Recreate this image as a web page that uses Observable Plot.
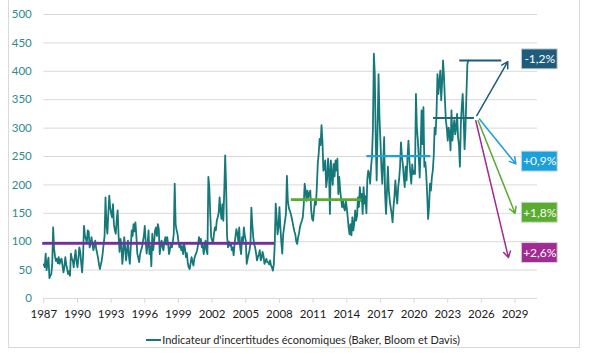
<!DOCTYPE html>
<html><head><meta charset="utf-8">
<script src="https://cdn.jsdelivr.net/npm/d3@7"></script>
<script src="https://cdn.jsdelivr.net/npm/@observablehq/plot@0.6"></script>
<style>
html,body{margin:0;padding:0;background:#fff}
body{width:606px;height:353px;overflow:hidden;position:relative;font-family:Lato,"Open Sans",sans-serif}
#frame{position:absolute;left:8px;top:-6px;width:572px;height:354px;border:1px solid #d9d9d9;box-sizing:border-box}
#chart{position:absolute;left:0;top:0}
#legend{position:absolute;top:333px;left:0;width:606px;text-align:center;font-size:11px;color:#262626;line-height:14px}
#legend .sw{display:inline-block;width:15px;height:2px;background:#17787a;vertical-align:middle;margin-right:1px;position:relative;top:-1px}
</style></head><body>
<div id="frame"></div>
<div id="chart"></div>
<div id="legend"><span class="sw"></span>Indicateur d'incertitudes économiques (Baker, Bloom et Davis)</div>
<script>
// Monthly index values, Jan 1987 onwards
const startYear = 1987;
const epuByYear = [
  /*1987*/ [60, 55, 79, 50, 62, 72, 36, 40, 43, 60, 125, 88],
  /*1988*/ [74, 66, 70, 62, 73, 61, 68, 70, 58, 46, 55, 73],
  /*1989*/ [60, 52, 43, 48, 40, 79, 70, 67, 55, 72, 85, 66],
  /*1990*/ [55, 70, 90, 82, 62, 46, 75, 128, 110, 105, 98, 120],
  /*1991*/ [118, 90, 95, 108, 96, 85, 92, 102, 88, 80, 72, 60],
  /*1992*/ [52, 60, 67, 80, 96, 110, 178, 130, 114, 150, 181, 160],
  /*1993*/ [150, 143, 166, 130, 120, 114, 140, 155, 110, 82, 105, 95],
  /*1994*/ [61, 80, 108, 90, 67, 85, 102, 75, 61, 90, 120, 110],
  /*1995*/ [131, 118, 134, 110, 79, 72, 64, 78, 85, 90, 100, 110],
  /*1996*/ [128, 100, 79, 95, 120, 78, 92, 57, 114, 85, 100, 120],
  /*1997*/ [125, 110, 131, 122, 78, 95, 102, 90, 85, 100, 108, 95],
  /*1998*/ [108, 95, 78, 88, 96, 90, 100, 114, 202, 131, 120, 114],
  /*1999*/ [100, 90, 95, 85, 92, 78, 96, 88, 73, 80, 62, 55],
  /*2000*/ [52, 62, 73, 65, 58, 70, 76, 80, 85, 95, 108, 100],
  /*2001*/ [105, 90, 95, 78, 90, 102, 85, 78, 214, 196, 150, 108],
  /*2002*/ [102, 98, 114, 125, 120, 137, 143, 150, 178, 155, 140, 166],
  /*2003*/ [137, 190, 252, 196, 110, 90, 100, 93, 98, 85, 90, 76],
  /*2004*/ [95, 110, 122, 114, 100, 125, 90, 78, 108, 100, 125, 110],
  /*2005*/ [102, 61, 70, 78, 85, 96, 160, 130, 108, 95, 90, 80],
  /*2006*/ [67, 73, 78, 85, 67, 72, 82, 75, 61, 66, 70, 64],
  /*2007*/ [64, 60, 67, 58, 55, 49, 60, 96, 167, 143, 113, 125],
  /*2008*/ [161, 126, 100, 79, 113, 125, 137, 150, 216, 172, 160, 155],
  /*2009*/ [150, 143, 135, 126, 118, 113, 100, 96, 108, 115, 126, 132],
  /*2010*/ [137, 143, 165, 202, 190, 172, 190, 178, 185, 190, 155, 140],
  /*2011*/ [137, 155, 172, 165, 196, 237, 255, 281, 270, 305, 278, 225],
  /*2012*/ [230, 243, 196, 210, 246, 225, 149, 243, 220, 200, 237, 215],
  /*2013*/ [243, 225, 246, 184, 214, 190, 175, 161, 172, 160, 155, 172],
  /*2014*/ [160, 143, 125, 113, 131, 111, 143, 120, 131, 155, 137, 145],
  /*2015*/ [178, 161, 196, 172, 184, 149, 196, 167, 180, 150, 210, 225],
  /*2016*/ [220, 202, 232, 250, 300, 431, 395, 278, 208, 300, 395, 319],
  /*2017*/ [278, 232, 202, 240, 284, 184, 149, 190, 232, 190, 172, 160],
  /*2018*/ [150, 134, 161, 180, 208, 184, 167, 196, 210, 232, 275, 250],
  /*2019*/ [236, 213, 196, 232, 208, 250, 278, 243, 220, 202, 236, 219],
  /*2020*/ [225, 219, 360, 301, 280, 249, 213, 260, 331, 272, 337, 232],
  /*2021*/ [240, 219, 184, 140, 161, 202, 190, 213, 225, 250, 301, 289],
  /*2022*/ [325, 395, 360, 380, 401, 349, 380, 419, 390, 349, 314, 300],
  /*2023*/ [278, 301, 290, 261, 331, 278, 300, 314, 289, 300, 325, 284],
  /*2024*/ [270, 232, 307, 337, 360, 319, 263, 300, 360, 413, 419]
];

// Period averages (horizontal segments)
const periodStart = [1986.9, 2009.06, 2015.8, 2021.73, 2024.07];
const periodEnd   = [2007.6, 2015.35, 2021.5, 2025.38, 2027.82];
const periodMean  = [97, 174, 250.5, 318, 419];

// Scenarios (arrows + labels)
const scenarioLabels     = ["-1,2%", "+0,9%", "+1,8%", "+2,6%"];
const scenarioStartYear  = [2025.59, 2025.82, 2025.71, 2025.5];
const scenarioStartValue = [322, 316, 313, 313];
const scenarioEndYear    = [2028.35, 2029.07, 2029.0, 2028.41];
const scenarioEndValue   = [417, 237, 150, 72];
const scenarioLabelValue = [421, 241, 151, 80];

// Axes
const xTicks = [1987, 1990, 1993, 1996, 1999, 2002, 2005, 2008, 2011, 2014, 2017, 2020, 2023, 2026, 2029];
const yTicks = [0, 50, 100, 150, 200, 250, 300, 350, 400, 450, 500];

// Styles
const lineColor = "#17787a";
const periodColors = ["#7030a0", "#5aab2e", "#1ea2dc", "#1f6b72", "#1f5b7a"];
const periodWidths = [2.6, 2.6, 2.2, 2, 2];
const scenarioColors = ["#1f5b7a", "#1aa0da", "#5aac2e", "#a12b93"];

const series = epuByYear.flat().map((v, i) => ({t: startYear + i / 12, v}));
const periods = periodMean.map((m, i) => ({x1: periodStart[i], x2: periodEnd[i], y: m, c: periodColors[i], w: periodWidths[i]}));
const scen = scenarioLabels.map((l, i) => ({
  label: l, x1: scenarioStartYear[i], y1: scenarioStartValue[i],
  x2: scenarioEndYear[i], y2: scenarioEndValue[i], ly: scenarioLabelValue[i], c: scenarioColors[i]
}));

const boxX1 = 2029.6, boxX2 = 2032.8, boxHalf = 17.6;

const chart = Plot.plot({
  width: 606, height: 320,
  marginTop: 14, marginBottom: 22, marginLeft: 43.3, marginRight: 69,
  style: {fontFamily: "Lato, 'Open Sans', sans-serif", fontSize: "11.5px", background: "transparent", overflow: "visible"},
  x: {domain: [1987, 2031], label: null},
  y: {domain: [0, 500], label: null},
  color: {type: "identity"},
  marks: [
    Plot.ruleY(yTicks, {stroke: "#d9d9d9", strokeWidth: 1}),
    Plot.axisY({ticks: yTicks, tickSize: 0, tickPadding: 12, fill: "#2f8a8c", label: null}),
    Plot.axisX({ticks: xTicks, tickFormat: d => String(d), tickSize: 5, tickPadding: 6, stroke: "#d9d9d9", fill: "#1a1a1a", label: null}),
    Plot.line(series, {x: "t", y: "v", stroke: lineColor, strokeWidth: 1.8}),
    ...periods.map(p => Plot.ruleY([p.y], {x1: p.x1, x2: p.x2, stroke: p.c, strokeWidth: p.w})),
    Plot.arrow(scen, {x1: "x1", y1: "y1", x2: "x2", y2: "y2", stroke: "c", strokeWidth: 1.5, headLength: 7}),
    Plot.rect(scen, {x1: boxX1, x2: boxX2, y1: d => d.ly - boxHalf, y2: d => d.ly + boxHalf, fill: "c", stroke: "#d0d8dc", strokeWidth: 1}),
    Plot.text(scen, {x: (boxX1 + boxX2) / 2, y: "ly", text: "label", fill: "white", fontSize: 12})
  ]
});
document.getElementById("chart").appendChild(chart);
</script>
</body></html>
